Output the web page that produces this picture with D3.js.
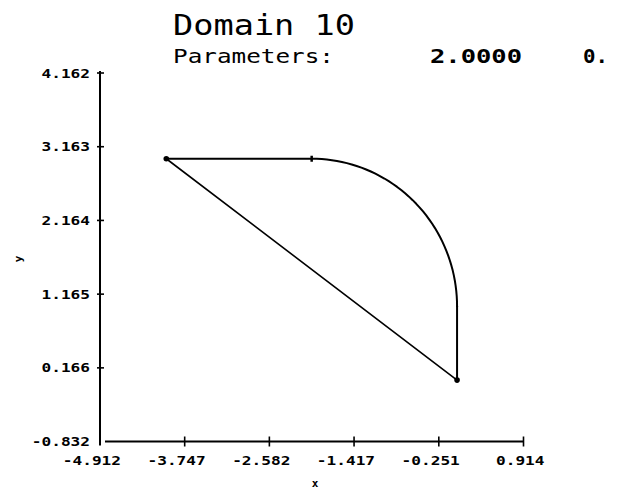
<!DOCTYPE html>
<html>
<head>
<meta charset="utf-8">
<script src="https://cdn.jsdelivr.net/npm/d3@7"></script>
<style>
  html, body { margin: 0; padding: 0; background: #fff; }
  svg { display: block; }
</style>
</head>
<body>
<svg id="chart" width="623" height="489"></svg>
<script>
// ---- data ----
const titleText = "Domain 10";
const paramLabel = "Parameters:";
const paramValues = ["2.0000", "0."];

const xDomain = [-4.912, 0.914];
const yDomain = [-0.832, 4.162];
const xTickValues = [-4.912, -3.747, -2.582, -1.417, -0.251, 0.914];
const xTickLabels = ["-4.912", "-3.747", "-2.582", "-1.417", "-0.251", "0.914"];
const yTickValues = [-0.832, 0.166, 1.165, 2.164, 3.163, 4.162];
const yTickLabels = ["-0.832", "0.166", "1.165", "2.164", "3.163", "4.162"];

// domain boundary pieces
const topEdge = [[-4, 3], [-2, 3]];
const arcCenter = [-2, 1];
const arcRadius = 2;
const arcAngles = [90, 0];           // degrees, from (-2,3) to (0,1)
const rightEdge = [[0, 1], [0, 0]];
const diagonalEdge = [[0, 0], [-4, 3]];
const dotMarkers = [[-4, 3], [0, 0]];
const tickMarkers = [[-2, 3]];

// ---- drawing ----
const svg = d3.select("#chart");
const x = d3.scaleLinear().domain(xDomain).range([100, 523.5]);
const y = d3.scaleLinear().domain(yDomain).range([441.5, 73]);
const mono = "'DejaVu Sans Mono', 'Liberation Mono', monospace";

// title
svg.append("text").attr("x", 173).attr("y", 35)
  .attr("font-family", mono).attr("font-size", 29)
  .attr("textLength", 182).attr("lengthAdjust", "spacingAndGlyphs")
  .attr("fill", "#000").text(titleText);
svg.append("text").attr("x", 173).attr("y", 63)
  .attr("font-family", mono).attr("font-size", 19)
  .attr("textLength", 161).attr("lengthAdjust", "spacingAndGlyphs")
  .attr("fill", "#000").text(paramLabel);
const paramX = [430, 583];
const paramW = [92, 25];
paramValues.forEach((v, i) => {
  svg.append("text").attr("x", paramX[i]).attr("y", 63)
    .attr("font-family", mono).attr("font-size", 20).attr("font-weight", "bold")
    .attr("textLength", paramW[i]).attr("lengthAdjust", "spacingAndGlyphs")
    .attr("fill", "#000").text(v);
});

// axes
const axisG = svg.append("g").attr("stroke", "#000").attr("stroke-width", 2).attr("fill", "none");
// y axis line
axisG.append("line").attr("x1", x(xDomain[0])).attr("x2", x(xDomain[0]))
  .attr("y1", y(yDomain[1]) - 2).attr("y2", y(yDomain[0]) + 4);
// x axis line
axisG.append("line").attr("x1", x(xDomain[0]) + 5).attr("x2", x(xDomain[1]))
  .attr("y1", y(yDomain[0])).attr("y2", y(yDomain[0]));

// y ticks
yTickValues.forEach((v, i) => {
  if (i === 0) return;
  axisG.append("line").attr("x1", x(xDomain[0]) - 3).attr("x2", x(xDomain[0]) + 4)
    .attr("y1", y(v)).attr("y2", y(v)).attr("stroke-width", 1.6);
});
// x ticks
xTickValues.forEach((v, i) => {
  if (i === 0) return;
  axisG.append("line").attr("x1", x(v)).attr("x2", x(v))
    .attr("y1", y(yDomain[0]) - 5).attr("y2", y(yDomain[0]) + 5).attr("stroke-width", 1.6);
});

// tick labels
const tickFont = { family: mono, size: 13, charW: 9.7 };
yTickLabels.forEach((lab, i) => {
  svg.append("text").attr("x", 90).attr("y", y(yTickValues[i]) + 4.5)
    .attr("text-anchor", "end")
    .attr("font-family", tickFont.family).attr("font-size", tickFont.size).attr("font-weight", "bold")
    .attr("textLength", lab.length * tickFont.charW).attr("lengthAdjust", "spacingAndGlyphs")
    .attr("fill", "#000").text(lab);
});
xTickLabels.forEach((lab, i) => {
  svg.append("text").attr("x", x(xTickValues[i]) + 21).attr("y", 465)
    .attr("text-anchor", "end")
    .attr("font-family", tickFont.family).attr("font-size", tickFont.size).attr("font-weight", "bold")
    .attr("textLength", lab.length * tickFont.charW).attr("lengthAdjust", "spacingAndGlyphs")
    .attr("fill", "#000").text(lab);
});

// axis titles
svg.append("text").attr("x", 315).attr("y", 487).attr("text-anchor", "middle")
  .attr("font-family", mono).attr("font-size", 11).attr("font-weight", "bold")
  .attr("fill", "#000").text("x");
svg.append("text").attr("transform", "translate(22,259) rotate(-90)")
  .attr("text-anchor", "middle")
  .attr("font-family", mono).attr("font-size", 11).attr("font-weight", "bold")
  .attr("fill", "#000").text("y");

// boundary
const line = d3.line().x(d => x(d[0])).y(d => y(d[1]));
const shapeG = svg.append("g").attr("fill", "none").attr("stroke", "#000")
  .attr("stroke-linejoin", "round").attr("stroke-linecap", "round");

shapeG.append("path").attr("d", line(topEdge)).attr("stroke-width", 2);
const arcPts = d3.range(arcAngles[0], arcAngles[1] - 0.001, -2).map(a => {
  const r = a * Math.PI / 180;
  return [arcCenter[0] + arcRadius * Math.cos(r), arcCenter[1] + arcRadius * Math.sin(r)];
});
shapeG.append("path").attr("d", line(arcPts)).attr("stroke-width", 2);
shapeG.append("path").attr("d", line(rightEdge)).attr("stroke-width", 2);
shapeG.append("path").attr("d", line(diagonalEdge)).attr("stroke-width", 1.6);

// markers
svg.selectAll("circle.vtx").data(dotMarkers).join("circle")
  .attr("class", "vtx").attr("cx", d => x(d[0])).attr("cy", d => y(d[1]))
  .attr("r", 2.8).attr("fill", "#000");
svg.selectAll("line.vtick").data(tickMarkers).join("line")
  .attr("class", "vtick")
  .attr("x1", d => x(d[0])).attr("x2", d => x(d[0]))
  .attr("y1", d => y(d[1]) - 3).attr("y2", d => y(d[1]) + 3)
  .attr("stroke", "#000").attr("stroke-width", 2.5);
</script>
</body>
</html>
